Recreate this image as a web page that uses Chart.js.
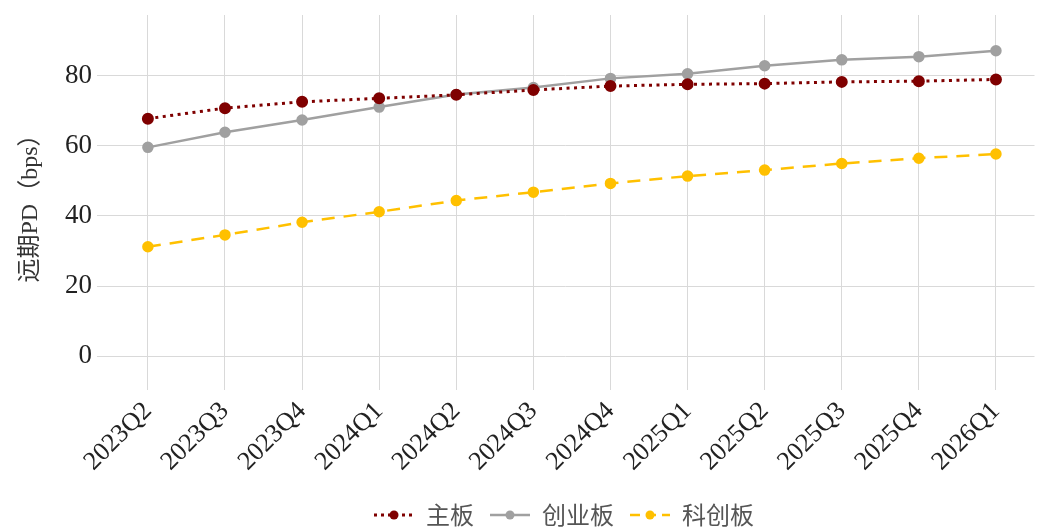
<!DOCTYPE html>
<html>
<head>
<meta charset="utf-8">
<script src="https://cdn.jsdelivr.net/npm/chart.js@4"></script>
<style>
  html, body { margin: 0; padding: 0; background: #fff; }
  #wrap { width: 1042px; height: 528px; }
</style>
</head>
<body>
<div id="wrap"><canvas id="pdchart" width="1042" height="528"></canvas></div>
<script>
// quarters on the x axis
var quarters = ["2023Q2", "2023Q3", "2023Q4", "2024Q1", "2024Q2", "2024Q3",
                "2024Q4", "2025Q1", "2025Q2", "2025Q3", "2025Q4", "2026Q1"];

// forward PD (bps) per board
var mainBoard = [67.8, 70.8, 72.6, 73.6, 74.6, 76.0, 77.1, 77.6, 77.8, 78.3, 78.5, 79.0];
var gemBoard  = [59.6, 63.9, 67.4, 71.1, 74.7, 76.7, 79.3, 80.6, 82.9, 84.6, 85.5, 87.2];
var starBoard = [31.2, 34.6, 38.2, 41.2, 44.4, 46.8, 49.3, 51.4, 53.1, 55.0, 56.5, 57.7];

var seriesNames = ["主板", "创业板", "科创板"];
var yTicks = [0, 20, 40, 60, 80];

var serif = '"Liberation Serif", "Noto Sans CJK SC", serif';
var cjk = '"Noto Sans CJK SC", "Liberation Sans", sans-serif';

function toPoints(arr) {
    return arr.map(function (v, i) { return { x: i, y: v }; });
}

// draws the legend (line + dot + name) centred under the plot
var lineLegend = {
    id: "lineLegend",
    afterDraw: function (chart) {
        var ctx = chart.ctx;
        var y = 515;
        var lineW = 40, gap = 12, itemGap = 16;
        ctx.save();
        ctx.font = "24px " + cjk;
        var widths = chart.data.datasets.map(function (ds) {
            return lineW + gap + ctx.measureText(ds.label).width;
        });
        var total = widths.reduce(function (a, b) { return a + b; }, 0) + itemGap * (widths.length - 1);
        var x = 564 - total / 2;

        chart.data.datasets.forEach(function (ds, i) {
            ctx.strokeStyle = ds.borderColor;
            ctx.lineWidth = ds.borderWidth;
            ctx.setLineDash(ds.legendDash);
            ctx.beginPath();
            ctx.moveTo(x, y);
            ctx.lineTo(x + lineW, y);
            ctx.stroke();
            ctx.setLineDash([]);
            ctx.fillStyle = ds.pointBackgroundColor;
            ctx.beginPath();
            ctx.arc(x + lineW / 2, y, ds.pointRadius, 0, Math.PI * 2);
            ctx.fill();

            ctx.fillStyle = "#555";
            ctx.textBaseline = "middle";
            ctx.textAlign = "left";
            ctx.fillText(ds.label, x + lineW + gap, y);
            x += widths[i] + itemGap;
        });
        ctx.restore();
    }
};

var ctx = document.getElementById("pdchart").getContext("2d");

new Chart(ctx, {
    type: "line",
    data: {
        datasets: [{
            label: seriesNames[0],
            data: toPoints(mainBoard),
            borderColor: "#7f0000",
            pointBackgroundColor: "#7f0000",
            pointBorderColor: "#7f0000",
            borderWidth: 3,
            borderDash: [3, 4.5],
            legendDash: [3, 4],
            pointRadius: 4.5,
            order: 2
        }, {
            label: seriesNames[1],
            data: toPoints(gemBoard),
            borderColor: "#a0a0a0",
            pointBackgroundColor: "#a0a0a0",
            pointBorderColor: "#a0a0a0",
            borderWidth: 2.5,
            borderDash: [],
            legendDash: [],
            pointRadius: 4.5,
            order: 3
        }, {
            label: seriesNames[2],
            data: toPoints(starBoard),
            borderColor: "#ffc000",
            pointBackgroundColor: "#ffc000",
            pointBorderColor: "#ffc000",
            borderWidth: 2.5,
            borderDash: [13, 9],
            legendDash: [10, 6],
            pointRadius: 4.5,
            order: 1
        }]
    },
    options: {
        responsive: false,
        animation: false,
        layout: { padding: { top: 15, right: 2, left: 0, bottom: 0 } },
        plugins: {
            legend: { display: false },
            tooltip: { enabled: false }
        },
        elements: { line: { tension: 0 }, point: { borderWidth: 0 } },
        scales: {
            x: {
                type: "linear",
                min: -0.66,
                max: 11.5,
                afterBuildTicks: function (scale) {
                    scale.ticks = quarters.map(function (q, i) { return { value: i }; });
                },
                afterFit: function (scale) {
                    scale.height = 138;
                    scale.paddingLeft = 0;
                    scale.paddingRight = 0;
                },
                grid: { color: "#d9d9d9", lineWidth: 1, drawTicks: false },
                border: { display: false },
                ticks: {
                    autoSkip: false,
                    minRotation: 45,
                    maxRotation: 45,
                    padding: 6,
                    color: "#222",
                    font: { family: serif, size: 26 },
                    callback: function (v) { return quarters[v]; }
                }
            },
            y: {
                min: -9.7,
                max: 97.4,
                afterBuildTicks: function (scale) {
                    scale.ticks = yTicks.map(function (v) { return { value: v }; });
                },
                afterFit: function (scale) {
                    scale.width = 97;
                    scale.paddingTop = 0;
                    scale.paddingBottom = 0;
                },
                grid: { color: "#d9d9d9", lineWidth: 1, drawTicks: false },
                border: { display: false },
                ticks: {
                    padding: 5,
                    color: "#222",
                    font: { family: serif, size: 27 }
                },
                title: {
                    display: true,
                    text: "远期PD（bps）",
                    color: "#333",
                    font: { family: serif, size: 24 },
                    padding: { top: 16, bottom: 0 }
                }
            }
        }
    },
    plugins: [lineLegend]
});
</script>
</body>
</html>
